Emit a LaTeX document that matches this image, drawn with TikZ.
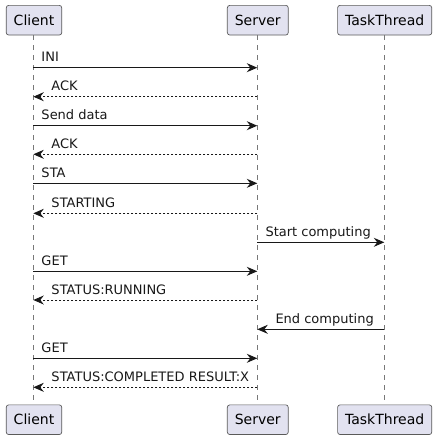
\documentclass[tikz,border=0pt]{standalone}
\usepackage{fontspec}
\setmainfont{DejaVu Sans}
\usetikzlibrary{arrows.meta}
\definecolor{BoxFill}{RGB}{226,226,240}
\definecolor{Ink}{RGB}{24,24,24}
\definecolor{Edge}{RGB}{90,90,90}
\definecolor{Life}{RGB}{120,120,120}
\tikzset{
  party/.style={draw=Edge, line width=0.7pt, fill=BoxFill, rounded corners=2.5pt, minimum height=29.7pt,
                inner xsep=7.5pt, font=\fontsize{14}{14}\selectfont},
  call/.style={Ink, line width=1pt, -{Stealth[length=10.5pt, width=9pt, inset=3.5pt]}},
  reply/.style={call, dash pattern=on 2pt off 2pt},
  lbl/.style={anchor=base west, inner sep=0pt, font=\fontsize{13}{13}\selectfont, text=Ink}
}

\begin{document}
\begin{tikzpicture}[x=1pt, y=-1pt]
          \useasboundingbox (0,0) rectangle (438,440);
          % participants
          \node[party] (client) at (34,20.2) {Client};
          \node[party] (server) at (257.8,20.2) {Server};
          \node[party] (task) at (384.7,20.2) {TaskThread};
          \node[party] (clientB) at (34,419.7) {Client};
          \node[party] (serverB) at (257.8,419.7) {Server};
          \node[party] (taskB) at (384.7,419.7) {TaskThread};
          % lifelines
          \coordinate (cl) at (33.3,0); \coordinate (sv) at (257.3,0); \coordinate (tt) at (384.3,0);
          \draw[Life, line width=0.6pt, dash pattern=on 5pt off 5pt] (cl |- client.south) -- (cl |- clientB.north);
          \draw[Life, line width=0.6pt, dash pattern=on 5pt off 5pt] (sv |- server.south) -- (sv |- serverB.north);
          \draw[Life, line width=0.6pt, dash pattern=on 5pt off 5pt] (tt |- task.south) -- (tt |- taskB.north);
          % messages
          \foreach \y/\txt in {67.7/INI, 125.7/Send data, 183.3/STA, 271.3/GET, 358.3/GET} {
            \coordinate (m) at (0,\y);
            \draw[call] (cl |- m) -- (sv |- m);
            \node[lbl] at ([xshift=8pt, yshift=6pt]cl |- m) {\txt};
          }
          \foreach \y/\txt in {96.7/ACK, 154.3/ACK, 213.3/STARTING, 300/STATUS:RUNNING, 387.3/STATUS:COMPLETED RESULT:X} {
            \coordinate (m) at (0,\y);
            \draw[reply] (sv |- m) -- (cl |- m);
            \node[lbl] at ([xshift=18pt, yshift=6pt]cl |- m) {\txt};
          }
          \coordinate (m) at (0,242.3);
          \draw[call] (sv |- m) -- (tt |- m);
          \node[lbl] at ([xshift=8pt, yshift=6pt]sv |- m) {Start computing};
          \coordinate (m) at (0,329.3);
          \draw[call] (tt |- m) -- (sv |- m);
          \node[lbl] at ([xshift=18pt, yshift=6pt]sv |- m) {End computing};
        \end{tikzpicture}
\end{document}
